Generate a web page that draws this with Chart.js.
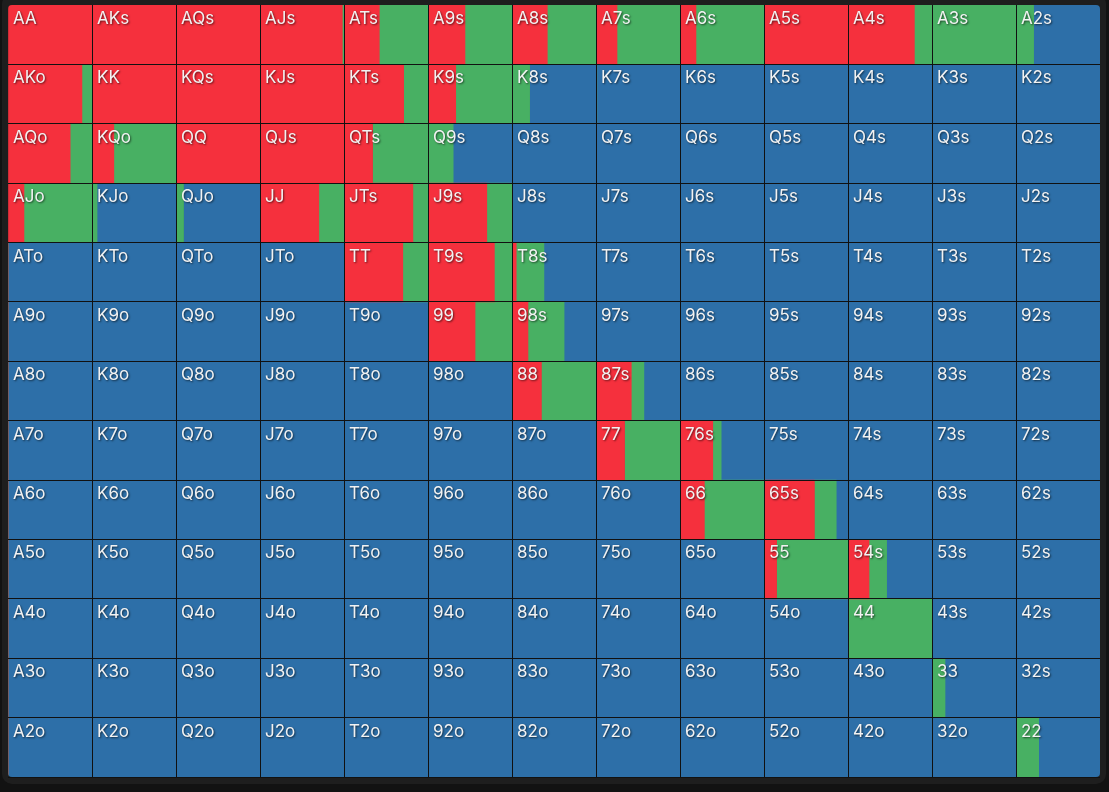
<!DOCTYPE html>
<html>
<head>
<meta charset="utf-8">
<script src="https://cdn.jsdelivr.net/npm/chart.js@4.4.1/dist/chart.umd.min.js"></script>
<style>
  html, body { margin: 0; padding: 0; background: #121212; }
  #frame {
    position: absolute; left: 2px; top: -6px; width: 1104px; height: 790px;
    background: #1e1e1e; border-radius: 10px;
  }
  #wrap { position: absolute; left: 0; top: 0; width: 1109px; height: 792px; }
</style>
</head>
<body>
<div id="frame"></div>
<div id="wrap"><canvas id="rangeChart"></canvas></div>
<script>
// hand ranks, rows top->bottom and columns left->right
const RANKS = ['A', 'K', 'Q', 'J', 'T', '9', '8', '7', '6', '5', '4', '3', '2'];

// share of each hand that raises (red)
const RAISE = [
    [1, 1, 1, 0.98, 0.42, 0.44, 0.42, 0.25, 0.19, 1, 0.79, 0, 0],
    [0.88, 1, 1, 1, 0.71, 0.33, 0, 0, 0, 0, 0, 0, 0],
    [0.74, 0.26, 1, 1, 0.34, 0, 0, 0, 0, 0, 0, 0, 0],
    [0.19, 0, 0, 0.70, 0.82, 0.70, 0, 0, 0, 0, 0, 0, 0],
    [0, 0, 0, 0, 0.70, 0.79, 0.05, 0, 0, 0, 0, 0, 0],
    [0, 0, 0, 0, 0, 0.56, 0.19, 0, 0, 0, 0, 0, 0],
    [0, 0, 0, 0, 0, 0, 0.35, 0.42, 0, 0, 0, 0, 0],
    [0, 0, 0, 0, 0, 0, 0, 0.34, 0.39, 0, 0, 0, 0],
    [0, 0, 0, 0, 0, 0, 0, 0, 0.29, 0.60, 0, 0, 0],
    [0, 0, 0, 0, 0, 0, 0, 0, 0, 0.15, 0.25, 0, 0],
    [0, 0, 0, 0, 0, 0, 0, 0, 0, 0, 0, 0, 0],
    [0, 0, 0, 0, 0, 0, 0, 0, 0, 0, 0, 0, 0],
    [0, 0, 0, 0, 0, 0, 0, 0, 0, 0, 0, 0, 0]
];

// share of each hand that calls (green); the rest folds (blue)
const CALL = [
    [0, 0, 0, 0.02, 0.58, 0.56, 0.58, 0.75, 0.81, 0, 0.21, 1, 0.21],
    [0.12, 0, 0, 0, 0.29, 0.67, 0.21, 0.01, 0, 0, 0, 0, 0],
    [0.26, 0.74, 0, 0, 0.66, 0.30, 0, 0, 0, 0, 0, 0, 0],
    [0.81, 0.06, 0.09, 0.30, 0.18, 0.30, 0, 0, 0, 0, 0, 0, 0],
    [0, 0, 0, 0, 0.30, 0.21, 0.33, 0, 0, 0, 0, 0, 0],
    [0, 0, 0, 0, 0, 0.44, 0.43, 0, 0, 0, 0, 0, 0],
    [0, 0, 0, 0, 0, 0, 0.65, 0.15, 0, 0, 0, 0, 0],
    [0, 0, 0, 0, 0, 0, 0, 0.66, 0.10, 0, 0, 0, 0],
    [0, 0, 0, 0, 0, 0, 0, 0, 0.71, 0.26, 0, 0, 0],
    [0, 0, 0, 0, 0, 0, 0, 0, 0, 0.85, 0.21, 0, 0],
    [0, 0, 0, 0, 0, 0, 0, 0, 0, 0, 1, 0, 0],
    [0, 0, 0, 0, 0, 0, 0, 0, 0, 0, 0, 0.155, 0],
    [0, 0, 0, 0, 0, 0, 0, 0, 0, 0, 0, 0, 0.27]
];

const COLORS = { raise: '#F5303D', call: '#48B063', fold: '#2D6FA8' };

function handName(r, c) {
    if (r === c) return RANKS[r] + RANKS[c];
    if (c > r) return RANKS[r] + RANKS[c] + 's';
    return RANKS[c] + RANKS[r] + 'o';
}

// one stacked segment per column and action, so each row adds up to 13 cells
const datasets = [];
RANKS.forEach((_, c) => {
    const raise = RANKS.map((_, r) => RAISE[r][c]);
    const call = RANKS.map((_, r) => CALL[r][c]);
    const fold = RANKS.map((_, r) => Math.max(0, 1 - RAISE[r][c] - CALL[r][c]));
    [[raise, COLORS.raise], [call, COLORS.call], [fold, COLORS.fold]].forEach(([data, color]) => {
        datasets.push({
            data: data,
            backgroundColor: color,
            borderWidth: 0,
            barPercentage: 1,
            categoryPercentage: 1
        });
    });
});

const clipPlugin = {
    id: 'clipGrid',
    beforeDatasetsDraw(chart) {
        const a = chart.chartArea;
        const ctx = chart.ctx;
        ctx.save();
        ctx.beginPath();
        ctx.roundRect(a.left, a.top, a.right - a.left, a.bottom - a.top, 4);
        ctx.clip();
    },
    afterDatasetsDraw(chart) {
        chart.ctx.restore();
    }
};

const labelPlugin = {
    id: 'handLabels',
    afterDraw(chart) {
        const ctx = chart.ctx;
        const xs = chart.scales.x;
        const ys = chart.scales.y;
        const rowH = (chart.chartArea.bottom - chart.chartArea.top) / RANKS.length;
        ctx.save();
        ctx.font = '17px Inter, "Noto Sans", sans-serif';
        ctx.fillStyle = '#f2f2f2';
        ctx.textBaseline = 'alphabetic';
        ctx.shadowColor = 'rgba(0,0,0,0.6)';
        ctx.shadowBlur = 2;
        ctx.shadowOffsetX = 1;
        ctx.shadowOffsetY = 1;
        RANKS.forEach((_, r) => {
            RANKS.forEach((_, c) => {
                const x = xs.getPixelForValue(c) + 5;
                const y = ys.getPixelForValue(r) - rowH / 2 + 19;
                ctx.fillText(handName(r, c), x, y);
            });
        });
        ctx.restore();
    }
};

const edgeColor = (ctx, count) =>
    (ctx.index === 0 || ctx.index === count) ? 'rgba(0,0,0,0)' : '#111111';

new Chart(document.getElementById('rangeChart'), {
    type: 'bar',
    data: { labels: RANKS, datasets: datasets },
    options: {
        indexAxis: 'y',
        responsive: true,
        maintainAspectRatio: false,
        animation: false,
        layout: { padding: { left: 8, right: 9, top: 5, bottom: 15 } },
        plugins: {
            legend: { display: false },
            tooltip: { enabled: false }
        },
        scales: {
            x: {
                stacked: true,
                min: 0,
                max: 13,
                ticks: { display: false, stepSize: 1 },
                grid: { z: 1, color: ctx => edgeColor(ctx, 13), lineWidth: 1, drawTicks: false },
                border: { display: false }
            },
            y: {
                stacked: true,
                ticks: { display: false },
                grid: { z: 1, offset: true, color: ctx => edgeColor(ctx, 13), lineWidth: 1, drawTicks: false },
                border: { display: false }
            }
        }
    },
    plugins: [clipPlugin, labelPlugin]
});
</script>
</body>
</html>
